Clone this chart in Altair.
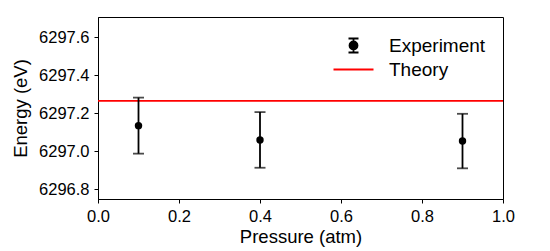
import altair as alt
import pandas as pd

# ---- data ----
pressure = [0.1, 0.4, 0.9]
energy = [6297.135, 6297.06, 6297.054]
energy_err = [0.147, 0.146, 0.143]
theory_energy = [6297.265]
series_names = ["Experiment", "Theory"]
x_ticks = [0.0, 0.2, 0.4, 0.6, 0.8, 1.0]
y_ticks = [6296.8, 6297.0, 6297.2, 6297.4, 6297.6]
x_domain = [0.0, 1.0]
y_domain = [6296.75, 6297.705]

exp = pd.DataFrame({"p": pressure, "e": energy, "err": energy_err})
exp["lo"] = exp["e"] - exp["err"]
exp["hi"] = exp["e"] + exp["err"]
th = pd.DataFrame({"e": theory_energy})
leg = pd.DataFrame({"series": series_names})

FONT = "Liberation Sans"
LW = 1.8

xs = alt.Scale(domain=x_domain, nice=False, zero=False)
ys = alt.Scale(domain=y_domain, nice=False, zero=False)
xaxis = alt.Axis(values=x_ticks, format=".1f", title="Pressure (atm)")
yaxis = alt.Axis(values=y_ticks, format=".1f", title="Energy (eV)")

base = alt.Chart(exp)
bars = base.mark_rule(color="black", strokeWidth=LW).encode(
    x=alt.X("p:Q", scale=xs, axis=xaxis),
    y=alt.Y("lo:Q", scale=ys, axis=yaxis),
    y2="hi:Q",
)
caps_lo = base.mark_tick(color="black", orient="horizontal", size=11, thickness=LW).encode(
    x="p:Q", y="lo:Q"
)
caps_hi = base.mark_tick(color="black", orient="horizontal", size=11, thickness=LW).encode(
    x="p:Q", y="hi:Q"
)
points = base.mark_point(filled=True, color="black", size=55, opacity=1).encode(
    x="p:Q", y="e:Q"
)
theory = alt.Chart(th).mark_rule(color="red", strokeWidth=LW).encode(y="e:Q")

# legend (symbol paths in unit coordinates, scaled by legend symbolSize)
exp_path = ("M0,-0.875L0,0.875M-0.625,-0.875L0.625,-0.875M-0.625,0.875L0.625,0.875"
            "M-0.5,0A0.5,0.5 0 1,0 0.5,0A0.5,0.5 0 1,0 -0.5,0Z")
th_path = "M-2.5,0L2.5,0"

legend_props = dict(
    orient="none", legendX=246, legendY=19, title=None, padding=0,
    labelFont=FONT, labelFontSize=19, labelColor="black", labelOffset=26,
    symbolSize=256, symbolStrokeWidth=LW, symbolOpacity=1, rowPadding=3,
)
legend_layer = alt.Chart(leg).mark_point(opacity=0, size=256).encode(
    shape=alt.Shape("series:N", scale=alt.Scale(domain=series_names, range=[exp_path, th_path]),
                    legend=alt.Legend(**legend_props)),
    fill=alt.Fill("series:N", scale=alt.Scale(domain=series_names, range=["black", "red"]),
                  legend=alt.Legend(**legend_props)),
    stroke=alt.Stroke("series:N", scale=alt.Scale(domain=series_names, range=["black", "red"]),
                      legend=alt.Legend(**legend_props)),
)

chart = alt.layer(theory, bars, caps_lo, caps_hi, points, legend_layer).properties(
    width=405, height=182,
    padding={"left": 98, "top": 17, "right": 47, "bottom": 52},
    autosize=alt.AutoSizeParams(type="none"),
).configure_view(
    stroke="black", strokeWidth=1
).configure_axis(
    grid=False, domainColor="black", domainWidth=1, tickColor="black", tickWidth=1, tickSize=4,
    labelFont=FONT, labelFontSize=16.5, labelColor="black", labelPadding=5, labelFlush=False,
    titleFont=FONT, titleFontSize=18.5, titleFontWeight="normal", titleColor="black",
).configure_axisY(titlePadding=8).configure_axisX(titlePadding=3)

chart.save("out.html", embed_options={"renderer": "svg", "actions": False})
